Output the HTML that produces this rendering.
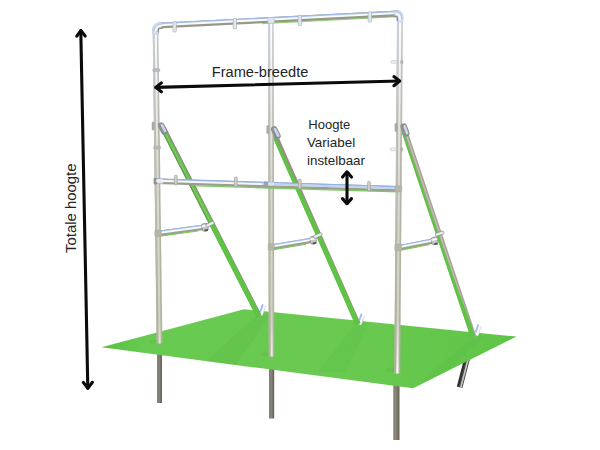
<!DOCTYPE html>
<html lang="nl"><head><meta charset="utf-8"><title>Frame</title>
<style>
html,body{margin:0;padding:0;background:#fff;}
body{width:600px;height:450px;overflow:hidden;font-family:"Liberation Sans","DejaVu Sans",sans-serif;}
svg{display:block}
text{font-family:"Liberation Sans","DejaVu Sans",sans-serif;fill:#242424}
</style></head><body>
<svg width="600" height="450" viewBox="0 0 600 450">
<defs>
<linearGradient id="gr" x1="0" y1="0" x2="1" y2="0">
<stop offset="0" stop-color="#56c040"/><stop offset="0.1" stop-color="#68ca51"/><stop offset="0.55" stop-color="#69c951"/><stop offset="0.9" stop-color="#63c64b"/><stop offset="1" stop-color="#5dc445"/>
</linearGradient>
<linearGradient id="ug" x1="0" y1="0" x2="1" y2="0">
<stop offset="0" stop-color="#7f7c6e"/><stop offset="0.4" stop-color="#8a8778"/><stop offset="1" stop-color="#625f53"/>
</linearGradient>
<linearGradient id="pb" gradientUnits="userSpaceOnUse" x1="0" y1="15" x2="0" y2="375">
<stop offset="0" stop-color="#c9d0d9"/><stop offset="0.15" stop-color="#bfc1be"/><stop offset="0.35" stop-color="#b5b4a5"/><stop offset="1" stop-color="#b2b19d"/>
</linearGradient>
<linearGradient id="ph" gradientUnits="userSpaceOnUse" x1="0" y1="15" x2="0" y2="375">
<stop offset="0" stop-color="#ffffff"/><stop offset="0.2" stop-color="#eeeeec"/><stop offset="0.45" stop-color="#dadad0"/><stop offset="0.85" stop-color="#d1d2c4"/><stop offset="0.97" stop-color="#f4f4f0"/><stop offset="1" stop-color="#ffffff"/>
</linearGradient>
<linearGradient id="pl" gradientUnits="userSpaceOnUse" x1="0" y1="15" x2="0" y2="375">
<stop offset="0" stop-color="#c6d2e4"/><stop offset="0.3" stop-color="#c0c2bf"/><stop offset="1" stop-color="#b0ad9f"/>
</linearGradient>
<clipPath id="gc"><polygon points="101.5,347.3 244,309.3 516.5,336.6 413.2,388.3"/></clipPath>
<filter id="soft" x="-5%" y="-5%" width="110%" height="110%"><feGaussianBlur stdDeviation="0.4"/></filter>
</defs>
<rect width="600" height="450" fill="#ffffff"/>
<g filter="url(#soft)">

<rect x="157" y="352" width="5" height="51" fill="url(#ug)"/>
<rect x="269" y="366" width="5.2" height="52.5" fill="url(#ug)"/>
<rect x="393.3" y="384" width="6.2" height="56" fill="url(#ug)"/>
<line x1="467.20" y1="358.00" x2="459.60" y2="387.20" stroke="#45443f" stroke-width="5.80" stroke-linecap="butt" />
<line x1="468.36" y1="358.30" x2="460.76" y2="387.50" stroke="#c9c9c6" stroke-width="1.60" stroke-linecap="butt" />
<line x1="465.55" y1="357.57" x2="457.95" y2="386.77" stroke="#2c2c29" stroke-width="1.20" stroke-linecap="butt" />
<polygon points="101.5,347.3 244,309.3 516.5,336.6 413.2,388.3" fill="url(#gr)"/>
<g clip-path="url(#gc)">
<polygon points="258,314 270,316 235,366 205,362" fill="#4fae3c" opacity="0.16"/>
<polygon points="357,322 368,324 345,372 318,372" fill="#4fae3c" opacity="0.13"/>
<polygon points="475,336 484,337 440,378 420,382" fill="#4fae3c" opacity="0.12"/>
<ellipse cx="392" cy="370" rx="7" ry="2.2" fill="#4fae3c" opacity="0.25"/>
<ellipse cx="266" cy="354" rx="6" ry="2" fill="#4fae3c" opacity="0.25"/>
<ellipse cx="154" cy="341.5" rx="5" ry="1.8" fill="#4fae3c" opacity="0.25"/>
</g>
<g transform="translate(262.2 309.8) rotate(20)"><rect x="-2.2" y="-5.6" width="4.4" height="11.2" rx="1.1" fill="#f8fafd"/><rect x="-2.2" y="-5.6" width="1.9" height="8.6" rx="0.8" fill="#a3c0ea"/><rect x="1.7" y="-4.6" width="0.7" height="7" fill="#d3d0c6"/></g>
<g transform="translate(361 319.2) rotate(20)"><rect x="-2.2" y="-5.6" width="4.4" height="11.2" rx="1.1" fill="#f8fafd"/><rect x="-2.2" y="-5.6" width="1.9" height="8.6" rx="0.8" fill="#a3c0ea"/><rect x="1.7" y="-4.6" width="0.7" height="7" fill="#d3d0c6"/></g>
<g transform="translate(477.8 330) rotate(18)"><rect x="-2.2" y="-5.6" width="4.4" height="11.2" rx="1.1" fill="#f8fafd"/><rect x="-2.2" y="-5.6" width="1.9" height="8.6" rx="0.8" fill="#a3c0ea"/><rect x="1.7" y="-4.6" width="0.7" height="7" fill="#d3d0c6"/></g>
<line x1="404.50" y1="131.00" x2="474.00" y2="337.80" stroke="#a7a396" stroke-width="5.60" stroke-linecap="butt" />
<line x1="405.14" y1="130.79" x2="474.64" y2="337.59" stroke="#c2bfb3" stroke-width="1.23" stroke-linecap="butt" />
<polygon points="401.51,132.00 436.26,235.40 451.55,280.90 460.59,307.78 471.01,338.80 475.59,337.26 464.42,306.49 454.33,279.97 438.51,234.65 403.44,131.36" fill="#5fc345"/>
<line x1="163.20" y1="128.00" x2="259.10" y2="316.00" stroke="#8f8c7c" stroke-width="5.20" stroke-linecap="butt" />
<polygon points="160.57,129.34 189.34,185.74 211.40,228.98 256.47,317.34 260.95,315.05 215.69,226.79 193.36,183.69 164.22,127.48" fill="#5fc345"/>
<line x1="161.20" y1="129.02" x2="208.90" y2="222.52" stroke="#74845f" stroke-width="0.80" stroke-linecap="butt" />
<line x1="164.66" y1="131.97" x2="210.45" y2="221.73" stroke="#86d06f" stroke-width="1.30" stroke-linecap="butt" opacity="0.7"/>
<line x1="275.07" y1="138.24" x2="315.19" y2="229.44" stroke="#86d06f" stroke-width="1.20" stroke-linecap="butt" opacity="0.7"/>
<line x1="274.40" y1="134.00" x2="358.00" y2="324.00" stroke="#95917f" stroke-width="5.20" stroke-linecap="butt" />
<polygon points="271.70,135.19 288.42,173.19 305.14,211.19 318.52,241.59 355.30,325.19 359.81,323.20 322.83,239.69 309.08,209.46 291.41,171.87 274.40,134.00" fill="#5fc345"/>
<line x1="155.50" y1="27.00" x2="159.50" y2="343.50" stroke="url(#pb)" stroke-width="5.80" stroke-linecap="butt" />
<line x1="153.41" y1="27.03" x2="157.41" y2="343.53" stroke="url(#pl)" stroke-width="1.30" stroke-linecap="butt" />
<line x1="155.70" y1="27.00" x2="159.70" y2="343.50" stroke="url(#ph)" stroke-width="2.09" stroke-linecap="butt" />
<line x1="270.90" y1="21.00" x2="271.50" y2="356.50" stroke="url(#pb)" stroke-width="5.60" stroke-linecap="butt" />
<line x1="268.88" y1="21.00" x2="269.48" y2="356.50" stroke="url(#pl)" stroke-width="1.30" stroke-linecap="butt" />
<line x1="271.10" y1="21.00" x2="271.70" y2="356.50" stroke="url(#ph)" stroke-width="2.02" stroke-linecap="butt" />
<line x1="160.00" y1="233.20" x2="206.00" y2="227.00" stroke="#a09d90" stroke-width="5.40" stroke-linecap="butt" />
<line x1="159.80" y1="231.70" x2="205.80" y2="225.50" stroke="#9dbae8" stroke-width="2.43" stroke-linecap="butt" />
<line x1="159.93" y1="232.70" x2="205.93" y2="226.50" stroke="#f6f8fa" stroke-width="1.94" stroke-linecap="butt" />
<line x1="160.00" y1="236.10" x2="198.00" y2="230.98" stroke="#79cc5c" stroke-width="1.20" stroke-linecap="butt" />
<line x1="273.50" y1="246.80" x2="314.50" y2="239.90" stroke="#a09d90" stroke-width="5.40" stroke-linecap="butt" />
<line x1="273.25" y1="245.31" x2="314.25" y2="238.41" stroke="#9dbae8" stroke-width="2.43" stroke-linecap="butt" />
<line x1="273.42" y1="246.31" x2="314.42" y2="239.41" stroke="#f6f8fa" stroke-width="1.94" stroke-linecap="butt" />
<line x1="273.50" y1="249.70" x2="306.00" y2="244.23" stroke="#79cc5c" stroke-width="1.20" stroke-linecap="butt" />
<line x1="401.00" y1="247.30" x2="436.50" y2="240.40" stroke="#a09d90" stroke-width="5.40" stroke-linecap="butt" />
<line x1="400.71" y1="245.82" x2="436.21" y2="238.92" stroke="#9dbae8" stroke-width="2.43" stroke-linecap="butt" />
<line x1="400.90" y1="246.81" x2="436.40" y2="239.91" stroke="#f6f8fa" stroke-width="1.94" stroke-linecap="butt" />
<line x1="401.00" y1="250.20" x2="429.00" y2="244.76" stroke="#79cc5c" stroke-width="1.20" stroke-linecap="butt" />
<g transform="translate(205 227.2) rotate(-8)"><rect x="-3" y="-3.7" width="6" height="7.4" rx="1.6" fill="#c4c8cb" stroke="#85867f" stroke-width="0.7"/><rect x="-3" y="-2.2" width="6" height="1.8" fill="#f8f9fb"/><rect x="-1" y="2.2" width="3.5" height="2" fill="#55564f"/></g>
<g transform="translate(313.2 240.1) rotate(-9)"><rect x="-3" y="-3.7" width="6" height="7.4" rx="1.6" fill="#c4c8cb" stroke="#85867f" stroke-width="0.7"/><rect x="-3" y="-2.2" width="6" height="1.8" fill="#f8f9fb"/><rect x="-1" y="2.2" width="3.5" height="2" fill="#55564f"/></g>
<g transform="translate(434.6 240.8) rotate(-11)"><rect x="-3" y="-3.7" width="6" height="7.4" rx="1.6" fill="#c4c8cb" stroke="#85867f" stroke-width="0.7"/><rect x="-3" y="-2.2" width="6" height="1.8" fill="#f8f9fb"/><rect x="-1" y="2.2" width="3.5" height="2" fill="#55564f"/></g>
<g transform="translate(210 224.2) rotate(62.6)"><rect x="-1.6" y="-4.4" width="3.2" height="8.8" rx="1.2" fill="#e9edf1" stroke="#868a88" stroke-width="0.7"/></g>
<g transform="translate(317.8 235.6) rotate(66.3)"><rect x="-1.6" y="-4.4" width="3.2" height="8.8" rx="1.2" fill="#e9edf1" stroke="#868a88" stroke-width="0.7"/></g>
<g transform="translate(439.6 233.6) rotate(71.4)"><rect x="-1.6" y="-4.4" width="3.2" height="8.8" rx="1.2" fill="#e9edf1" stroke="#868a88" stroke-width="0.7"/></g>
<line x1="156.00" y1="181.20" x2="398.00" y2="188.90" stroke="#a09d90" stroke-width="5.60" stroke-linecap="butt" />
<line x1="156.05" y1="179.63" x2="398.05" y2="187.33" stroke="#94b4e6" stroke-width="2.52" stroke-linecap="butt" />
<line x1="156.02" y1="180.70" x2="398.02" y2="188.40" stroke="#f7f8fa" stroke-width="1.90" stroke-linecap="butt" />
<line x1="262.02" y1="183.97" x2="398.02" y2="188.30" stroke="#bfd3f0" stroke-width="2.02" stroke-linecap="butt" />
<line x1="196.00" y1="185.80" x2="398.00" y2="191.90" stroke="#74c559" stroke-width="1.30" stroke-linecap="butt" opacity="0.9"/>
<rect x="153.6" y="177.8" width="2.6" height="6.6" rx="0.8" fill="#8f9488"/>
<rect x="157" y="179" width="6.4" height="4.6" rx="1" fill="#e9edf4" opacity="0.85"/>
<rect x="264" y="181.2" width="4" height="6.8" rx="0.8" fill="#9aa0a0" opacity="0.9"/>
<rect x="268.4" y="182" width="5.6" height="3.6" rx="1" fill="#eef1f6" opacity="0.55"/>
<rect x="174.4" y="175.32" width="2.8" height="9.6" rx="0.8" fill="#cfd0cc" stroke="#9b9b93" stroke-width="0.6"/>
<rect x="234.4" y="177.21" width="2.8" height="9.6" rx="0.8" fill="#cfd0cc" stroke="#9b9b93" stroke-width="0.6"/>
<rect x="298.40000000000003" y="179.22" width="2.8" height="9.6" rx="0.8" fill="#cfd0cc" stroke="#9b9b93" stroke-width="0.6"/>
<rect x="367.6" y="181.39" width="2.8" height="9.6" rx="0.8" fill="#cfd0cc" stroke="#9b9b93" stroke-width="0.6"/>
<line x1="158.00" y1="25.70" x2="399.00" y2="13.50" stroke="#99968a" stroke-width="5.80" stroke-linecap="butt" />
<line x1="157.92" y1="24.08" x2="398.92" y2="11.88" stroke="#9fbbe6" stroke-width="2.61" stroke-linecap="butt" />
<line x1="157.97" y1="25.20" x2="398.97" y2="13.00" stroke="#f8fafc" stroke-width="2.09" stroke-linecap="butt" />
<line x1="262.00" y1="23.60" x2="396.00" y2="16.80" stroke="#7fc465" stroke-width="1.10" stroke-linecap="butt" opacity="0.8"/>
<rect x="172.9" y="21.56" width="3.4" height="10.4" rx="0.8" fill="#e0e5ee" stroke="#a4abb6" stroke-width="0.6"/>
<rect x="233.10000000000002" y="18.51" width="3.4" height="10.4" rx="0.8" fill="#e0e5ee" stroke="#a4abb6" stroke-width="0.6"/>
<rect x="298.1" y="15.22" width="3.4" height="10.4" rx="0.8" fill="#e0e5ee" stroke="#a4abb6" stroke-width="0.6"/>
<rect x="368.1" y="11.68" width="3.4" height="10.4" rx="0.8" fill="#e0e5ee" stroke="#a4abb6" stroke-width="0.6"/>
<line x1="400.00" y1="15.00" x2="397.20" y2="373.50" stroke="url(#pb)" stroke-width="6.00" stroke-linecap="butt" />
<line x1="397.84" y1="14.98" x2="395.04" y2="373.48" stroke="url(#pl)" stroke-width="1.30" stroke-linecap="butt" />
<line x1="400.20" y1="15.00" x2="397.40" y2="373.50" stroke="url(#ph)" stroke-width="2.16" stroke-linecap="butt" />
<path d="M152.6 34 V29.3 Q152.6 23 160 22.6 L162 22.5 L162 28.4 L158.6 28.7 V34 Z" fill="#d9e3f2" stroke="#b3c1d6" stroke-width="0.5"/>
<path d="M154.2 31.5 Q154 24.4 161.5 23.9" fill="none" stroke="#b4c8e8" stroke-width="1.3"/>
<path d="M156 31 Q156 26 161.5 25.6" fill="none" stroke="#fbfcfe" stroke-width="1.5"/>
<path d="M158.3 32.5 V29.8 Q158.4 28.4 160 28.3 L163 28.1" fill="none" stroke="#8f9186" stroke-width="1.5"/>
<path d="M403 22 V16.5 Q403 10.6 396.5 10.6 L394.5 10.7 L394.7 16.3 L397 16.2 V22 Z" fill="#d9e3f2" stroke="#b3c1d6" stroke-width="0.5"/>
<path d="M401.9 20 Q402 11.8 395.5 11.7" fill="none" stroke="#b4c8e8" stroke-width="1.2"/>
<path d="M400.2 20 Q400.4 13.6 395.5 13.4" fill="none" stroke="#fbfcfe" stroke-width="1.5"/>
<path d="M397.4 21 V17.6 Q397.3 16.4 396 16.4 L393.5 16.5" fill="none" stroke="#8f9186" stroke-width="1.4"/>
<rect x="268" y="17.8" width="6.2" height="5.6" rx="1" fill="#dde5f1" stroke="#b7c0cd" stroke-width="0.5"/>
<rect x="152.80" y="68.80" width="7" height="2.8" rx="0.8" fill="#b4bcc8" stroke="#a2aab6" stroke-width="0.5"/>
<rect x="153.60" y="146.20" width="7" height="2.8" rx="0.8" fill="#b7b9b8" stroke="#a4a6a2" stroke-width="0.5"/>
<rect x="154.80" y="230.10" width="6.4" height="6.6" rx="0.8" fill="#b6b5a6" stroke="#a9a899" stroke-width="0.5"/>
<rect x="268.10" y="243.50" width="6.2" height="6.6" rx="0.8" fill="#b6b5a6" stroke="#a9a899" stroke-width="0.5"/>
<rect x="395.20" y="185.80" width="6.6" height="6.2" rx="0.8" fill="#b6b5a6" stroke="#a9a899" stroke-width="0.5"/>
<rect x="394.80" y="244.00" width="6.6" height="6.8" rx="0.8" fill="#b6b5a6" stroke="#a9a899" stroke-width="0.5"/>
<rect x="391" y="60.6" width="6" height="2.6" rx="0.6" fill="#eef1f6" stroke="#b1b6be" stroke-width="0.5"/>
<rect x="390.4" y="148" width="6" height="2.6" rx="0.6" fill="#eef1f6" stroke="#b1b6be" stroke-width="0.5"/>
<rect x="400.70" y="60.30" width="2.2" height="3.4" rx="0.8" fill="#b9b9b0" stroke="#a0a097" stroke-width="0.5"/>
<rect x="400.50" y="147.70" width="2.2" height="3.4" rx="0.8" fill="#b9b9b0" stroke="#a0a097" stroke-width="0.5"/>
<line x1="161.20" y1="125.60" x2="164.20" y2="131.40" stroke="#8c9093" stroke-width="6.60" stroke-linecap="round" />
<line x1="162.00" y1="125.19" x2="165.00" y2="130.99" stroke="#c9d6e8" stroke-width="2.60" stroke-linecap="round" />
<line x1="274.20" y1="129.40" x2="277.40" y2="136.00" stroke="#8c9093" stroke-width="6.60" stroke-linecap="round" />
<line x1="275.01" y1="129.01" x2="278.21" y2="135.61" stroke="#c9d6e8" stroke-width="2.60" stroke-linecap="round" />
<line x1="403.80" y1="126.60" x2="406.20" y2="133.40" stroke="#8c9093" stroke-width="6.60" stroke-linecap="round" />
<line x1="404.65" y1="126.30" x2="407.05" y2="133.10" stroke="#c9d6e8" stroke-width="2.60" stroke-linecap="round" />
<rect x="152" y="122" width="2.2" height="8" rx="0.7" fill="#aeaea6" stroke="#96968e" stroke-width="0.4"/>
<rect x="266.7" y="125.6" width="2.2" height="8" rx="0.7" fill="#aeaea6" stroke="#96968e" stroke-width="0.4"/>
<rect x="394.9" y="123.6" width="2.2" height="8" rx="0.7" fill="#aeaea6" stroke="#96968e" stroke-width="0.4"/>
</g>
<g fill="none" stroke="#0b0b0b" stroke-width="3.1" stroke-linecap="round" stroke-linejoin="round">
<path d="M80.8 30.8 L87.8 388"/>
<path d="M76.8 36.2 L80.8 30.6 L85.2 36"/>
<path d="M83.3 382.4 L87.8 388.3 L92.4 382.3"/>
<path d="M155.9 87.4 L399.5 81.0"/>
<path d="M161.4 82.9 L155.8 87.4 L161.4 91.8"/>
<path d="M393.9 76.6 L399.6 81 L393.9 85.7"/>
<path d="M347 172.2 L347 203.4"/>
<path d="M342.5 177 L347 171.9 L351.5 177"/>
<path d="M342.5 198.6 L347 203.7 L351.5 198.6"/>
</g>
<text x="211.8" y="76.7" font-size="14" textLength="96.6" lengthAdjust="spacingAndGlyphs">Frame-breedte</text>
<text x="308.3" y="128.7" font-size="12.4" textLength="42" lengthAdjust="spacingAndGlyphs">Hoogte</text>
<text x="306.9" y="146.9" font-size="12.4" textLength="48.3" lengthAdjust="spacingAndGlyphs">Variabel</text>
<text x="307" y="164.9" font-size="12.4" textLength="58" lengthAdjust="spacingAndGlyphs">instelbaar</text>
<text transform="translate(75.6 253) rotate(-90)" font-size="14.2" textLength="89.5" lengthAdjust="spacingAndGlyphs">Totale hoogte</text>
</svg></body></html>
